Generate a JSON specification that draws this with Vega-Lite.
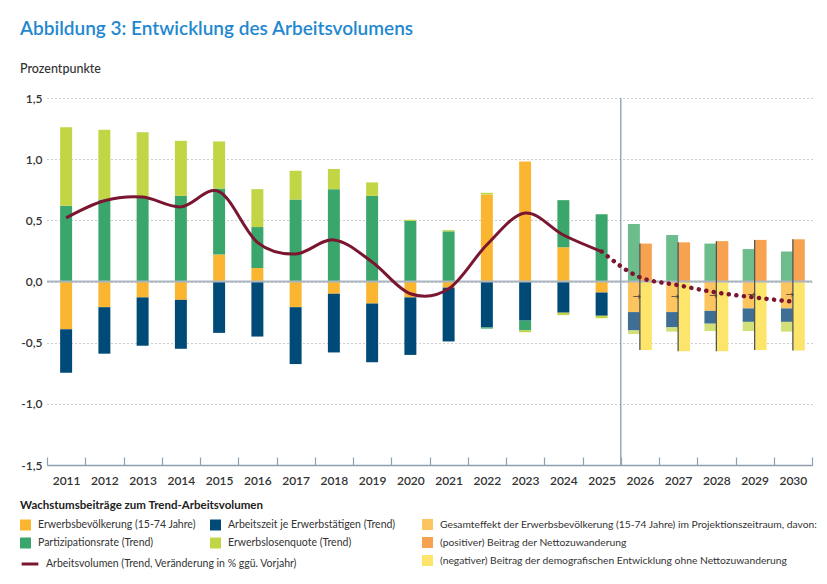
{
  "$schema": "https://vega.github.io/schema/vega-lite/v6.json",
  "width": 765,
  "height": 367,
  "autosize": {"type": "none"},
  "padding": {"left": 47, "top": 98, "right": 15, "bottom": 119},
  "title": {
    "text": "Abbildung 3: Entwicklung des Arbeitsvolumens",
    "subtitle": "Prozentpunkte",
    "anchor": "start",
    "frame": "bounds",
    "fontSize": 19,
    "fontWeight": 600,
    "color": "#1f88d0",
    "subtitleFontSize": 12.5,
    "subtitleColor": "#333333",
    "subtitleFontWeight": 500,
    "subtitlePadding": 24,
    "offset": 17
  },
  "datasets": {
    "hist": [
      {"year": "2011", "cat": "EB", "o": 1, "value": -0.39},
      {"year": "2011", "cat": "AZ", "o": 2, "value": -0.355},
      {"year": "2011", "cat": "PR", "o": 3, "value": 0.62},
      {"year": "2011", "cat": "EQ", "o": 4, "value": 0.64},
      {"year": "2012", "cat": "EB", "o": 1, "value": -0.21},
      {"year": "2012", "cat": "AZ", "o": 2, "value": -0.38},
      {"year": "2012", "cat": "PR", "o": 3, "value": 0.67},
      {"year": "2012", "cat": "EQ", "o": 4, "value": 0.57},
      {"year": "2013", "cat": "EB", "o": 1, "value": -0.13},
      {"year": "2013", "cat": "AZ", "o": 2, "value": -0.395},
      {"year": "2013", "cat": "PR", "o": 3, "value": 0.69},
      {"year": "2013", "cat": "EQ", "o": 4, "value": 0.53},
      {"year": "2014", "cat": "EB", "o": 1, "value": -0.15},
      {"year": "2014", "cat": "AZ", "o": 2, "value": -0.40},
      {"year": "2014", "cat": "PR", "o": 3, "value": 0.70},
      {"year": "2014", "cat": "EQ", "o": 4, "value": 0.45},
      {"year": "2015", "cat": "EB", "o": 1, "value": 0.22},
      {"year": "2015", "cat": "AZ", "o": 2, "value": -0.42},
      {"year": "2015", "cat": "PR", "o": 3, "value": 0.54},
      {"year": "2015", "cat": "EQ", "o": 4, "value": 0.385},
      {"year": "2016", "cat": "EB", "o": 1, "value": 0.11},
      {"year": "2016", "cat": "AZ", "o": 2, "value": -0.45},
      {"year": "2016", "cat": "PR", "o": 3, "value": 0.335},
      {"year": "2016", "cat": "EQ", "o": 4, "value": 0.31},
      {"year": "2017", "cat": "EB", "o": 1, "value": -0.21},
      {"year": "2017", "cat": "AZ", "o": 2, "value": -0.465},
      {"year": "2017", "cat": "PR", "o": 3, "value": 0.67},
      {"year": "2017", "cat": "EQ", "o": 4, "value": 0.235},
      {"year": "2018", "cat": "EB", "o": 1, "value": -0.10},
      {"year": "2018", "cat": "AZ", "o": 2, "value": -0.48},
      {"year": "2018", "cat": "PR", "o": 3, "value": 0.755},
      {"year": "2018", "cat": "EQ", "o": 4, "value": 0.165},
      {"year": "2019", "cat": "EB", "o": 1, "value": -0.18},
      {"year": "2019", "cat": "AZ", "o": 2, "value": -0.48},
      {"year": "2019", "cat": "PR", "o": 3, "value": 0.70},
      {"year": "2019", "cat": "EQ", "o": 4, "value": 0.11},
      {"year": "2020", "cat": "EB", "o": 1, "value": -0.13},
      {"year": "2020", "cat": "AZ", "o": 2, "value": -0.47},
      {"year": "2020", "cat": "PR", "o": 3, "value": 0.495},
      {"year": "2020", "cat": "EQ", "o": 4, "value": 0.01},
      {"year": "2021", "cat": "EB", "o": 1, "value": -0.05},
      {"year": "2021", "cat": "AZ", "o": 2, "value": -0.44},
      {"year": "2021", "cat": "PR", "o": 3, "value": 0.41},
      {"year": "2021", "cat": "EQ", "o": 4, "value": 0.01},
      {"year": "2022", "cat": "EB", "o": 1, "value": 0.71},
      {"year": "2022", "cat": "AZ", "o": 2, "value": -0.375},
      {"year": "2022", "cat": "PR", "o": 3, "value": -0.01},
      {"year": "2022", "cat": "EQ", "o": 4, "value": 0.015},
      {"year": "2023", "cat": "EB", "o": 1, "value": 0.98},
      {"year": "2023", "cat": "AZ", "o": 2, "value": -0.32},
      {"year": "2023", "cat": "PR", "o": 3, "value": -0.08},
      {"year": "2023", "cat": "EQ", "o": 4, "value": -0.015},
      {"year": "2024", "cat": "EB", "o": 1, "value": 0.28},
      {"year": "2024", "cat": "AZ", "o": 2, "value": -0.255},
      {"year": "2024", "cat": "PR", "o": 3, "value": 0.385},
      {"year": "2024", "cat": "EQ", "o": 4, "value": -0.02},
      {"year": "2025", "cat": "EB", "o": 1, "value": -0.09},
      {"year": "2025", "cat": "AZ", "o": 2, "value": -0.19},
      {"year": "2025", "cat": "PR", "o": 3, "value": 0.55},
      {"year": "2025", "cat": "EQ", "o": 4, "value": -0.02}
    ],
    "proj": [
      {"year": "2026", "pos": "L", "cat": "EBp", "o": 1, "value": -0.25},
      {"year": "2026", "pos": "L", "cat": "AZp", "o": 2, "value": -0.15},
      {"year": "2026", "pos": "L", "cat": "PRp", "o": 3, "value": 0.47},
      {"year": "2026", "pos": "L", "cat": "EQp", "o": 4, "value": -0.03},
      {"year": "2026", "pos": "R", "cat": "NZ", "o": 1, "value": 0.31},
      {"year": "2026", "pos": "R", "cat": "DE", "o": 1, "value": -0.56},
      {"year": "2027", "pos": "L", "cat": "EBp", "o": 1, "value": -0.25},
      {"year": "2027", "pos": "L", "cat": "AZp", "o": 2, "value": -0.125},
      {"year": "2027", "pos": "L", "cat": "PRp", "o": 3, "value": 0.38},
      {"year": "2027", "pos": "L", "cat": "EQp", "o": 4, "value": -0.035},
      {"year": "2027", "pos": "R", "cat": "NZ", "o": 1, "value": 0.32},
      {"year": "2027", "pos": "R", "cat": "DE", "o": 1, "value": -0.57},
      {"year": "2028", "pos": "L", "cat": "EBp", "o": 1, "value": -0.24},
      {"year": "2028", "pos": "L", "cat": "AZp", "o": 2, "value": -0.105},
      {"year": "2028", "pos": "L", "cat": "PRp", "o": 3, "value": 0.31},
      {"year": "2028", "pos": "L", "cat": "EQp", "o": 4, "value": -0.06},
      {"year": "2028", "pos": "R", "cat": "NZ", "o": 1, "value": 0.33},
      {"year": "2028", "pos": "R", "cat": "DE", "o": 1, "value": -0.57},
      {"year": "2029", "pos": "L", "cat": "EBp", "o": 1, "value": -0.22},
      {"year": "2029", "pos": "L", "cat": "AZp", "o": 2, "value": -0.11},
      {"year": "2029", "pos": "L", "cat": "PRp", "o": 3, "value": 0.265},
      {"year": "2029", "pos": "L", "cat": "EQp", "o": 4, "value": -0.075},
      {"year": "2029", "pos": "R", "cat": "NZ", "o": 1, "value": 0.34},
      {"year": "2029", "pos": "R", "cat": "DE", "o": 1, "value": -0.56},
      {"year": "2030", "pos": "L", "cat": "EBp", "o": 1, "value": -0.22},
      {"year": "2030", "pos": "L", "cat": "AZp", "o": 2, "value": -0.11},
      {"year": "2030", "pos": "L", "cat": "PRp", "o": 3, "value": 0.245},
      {"year": "2030", "pos": "L", "cat": "EQp", "o": 4, "value": -0.08},
      {"year": "2030", "pos": "R", "cat": "NZ", "o": 1, "value": 0.345},
      {"year": "2030", "pos": "R", "cat": "DE", "o": 1, "value": -0.565}
    ],
    "bracket": [
      {"year": "2026", "top": 0.31, "bottom": -0.56, "arrow": -0.125},
      {"year": "2027", "top": 0.32, "bottom": -0.57, "arrow": -0.125},
      {"year": "2028", "top": 0.33, "bottom": -0.57, "arrow": -0.12},
      {"year": "2029", "top": 0.34, "bottom": -0.56, "arrow": -0.11},
      {"year": "2030", "top": 0.345, "bottom": -0.565, "arrow": -0.11}
    ],
    "sep": [{"year": "2026"}],
    "zero": [{"value": 0}],
    "line": [
      {"year": "2011", "value": 0.52},
      {"year": "2012", "value": 0.66},
      {"year": "2013", "value": 0.69},
      {"year": "2014", "value": 0.61},
      {"year": "2015", "value": 0.735},
      {"year": "2016", "value": 0.32},
      {"year": "2017", "value": 0.225},
      {"year": "2018", "value": 0.34},
      {"year": "2019", "value": 0.16},
      {"year": "2020", "value": -0.10},
      {"year": "2021", "value": -0.06},
      {"year": "2022", "value": 0.30},
      {"year": "2023", "value": 0.56},
      {"year": "2024", "value": 0.38},
      {"year": "2025", "value": 0.245}
    ],
    "dots": [
      {"year": "2025", "value": 0.245},
      {"year": "2026", "value": 0.035},
      {"year": "2027", "value": -0.03},
      {"year": "2028", "value": -0.09},
      {"year": "2029", "value": -0.13},
      {"year": "2030", "value": -0.165}
    ]
  },
  "layer": [
    {
      "data": {"name": "hist"},
      "mark": {"type": "bar", "width": {"band": 0.313}},
      "encoding": {
        "x": {
          "field": "year",
          "type": "nominal",
          "scale": {
            "domain": ["2011","2012","2013","2014","2015","2016","2017","2018","2019","2020","2021","2022","2023","2024","2025","2026","2027","2028","2029","2030"],
            "paddingInner": 0,
            "paddingOuter": 0
          },
          "axis": {
            "title": null,
            "labelAngle": 0,
            "domainColor": "#8fa1ae",
            "domainWidth": 1.5,
            "tickColor": "#8fa1ae",
            "tickWidth": 1.2,
            "tickSize": -8,
            "tickBand": "extent",
            "labelFontSize": 12,
            "labelFontWeight": 600,
            "labelColor": "#333333",
            "labelPadding": 18
          }
        },
        "y": {
          "field": "value",
          "type": "quantitative",
          "scale": {"domain": [-1.5, 1.5], "nice": false, "zero": false},
          "axis": {
            "title": null,
            "values": [-1.5, -1, -0.5, 0, 0.5, 1, 1.5],
            "format": ".1f",
            "domain": false,
            "ticks": false,
            "grid": true,
            "gridDash": [1, 3],
            "gridColor": "#9a9a9a",
            "gridWidth": 1,
            "labelPadding": 5,
            "labelFontSize": 12,
            "labelFontWeight": 600,
            "labelColor": "#333333"
          }
        },
        "color": {
          "field": "cat",
          "type": "nominal",
          "scale": {"domain": ["EB", "PR", "AZ", "EQ"], "range": ["#fbb631", "#3aa66b", "#004a78", "#c1d545"]},
          "legend": {
            "orient": "none",
            "legendX": -27,
            "legendY": 402,
            "direction": "vertical",
            "columns": 2,
            "title": "Wachstumsbeiträge zum Trend-Arbeitsvolumen",
            "titleLimit": 500,
            "titleFontSize": 11.5,
            "titleFontWeight": "bold",
            "titleColor": "#222222",
            "titlePadding": 8,
            "symbolType": "square",
            "symbolSize": 121,
            "symbolStrokeWidth": 0,
            "labelFontSize": 10.5,
            "labelColor": "#333333",
            "labelOffset": 7,
            "rowPadding": 7,
            "columnPadding": 14,
            "labelLimit": 400,
            "labelExpr": "datum.value == 'EB' ? 'Erwerbsbevölkerung (15-74 Jahre)' : datum.value == 'AZ' ? 'Arbeitszeit je Erwerbstätigen (Trend)' : datum.value == 'PR' ? 'Partizipationsrate (Trend)' : 'Erwerbslosenquote (Trend)'"
          }
        },
        "order": {"field": "o", "type": "quantitative"}
      }
    },
    {
      "data": {"name": "proj"},
      "mark": {"type": "bar"},
      "encoding": {
        "x": {"field": "year", "type": "nominal"},
        "xOffset": {"field": "pos", "type": "nominal", "scale": {"domain": ["L", "R"], "paddingInner": 0, "paddingOuter": 0.6}},
        "y": {"field": "value", "type": "quantitative"},
        "fill": {
          "field": "cat",
          "type": "nominal",
          "scale": {"domain": ["EBp", "AZp", "PRp", "EQp", "NZ", "DE"], "range": ["#fcc560", "#3e6e94", "#6cbc8c", "#d2e07a", "#f7a250", "#fde46b"]},
          "legend": {
            "orient": "none",
            "legendX": 375,
            "legendY": 421,
            "title": null,
            "values": ["EBp", "NZ", "DE"],
            "symbolType": "square",
            "symbolSize": 121,
            "symbolStrokeWidth": 0,
            "labelFontSize": 10.3,
            "labelColor": "#333333",
            "labelOffset": 7,
            "rowPadding": 7,
            "labelLimit": 600,
            "labelExpr": "datum.value == 'EBp' ? 'Gesamteffekt der Erwerbsbevölkerung (15-74 Jahre) im Projektionszeitraum, davon:' : datum.value == 'NZ' ? '(positiver) Beitrag der Nettozuwanderung' : '(negativer) Beitrag der demografischen Entwicklung ohne Nettozuwanderung'"
          }
        },
        "order": {"field": "o", "type": "quantitative"}
      }
    },
    {
      "data": {"name": "zero"},
      "mark": {"type": "rule", "color": "#a9b6c0", "strokeWidth": 2},
      "encoding": {"y": {"field": "value", "type": "quantitative"}}
    },
    {
      "data": {"name": "sep"},
      "mark": {"type": "rule", "color": "#98a9b6", "strokeWidth": 1.5},
      "encoding": {"x": {"field": "year", "type": "nominal", "bandPosition": 0}}
    },
    {
      "data": {"name": "bracket"},
      "mark": {"type": "rule", "color": "#555555", "strokeWidth": 1.3},
      "encoding": {
        "x": {"field": "year", "type": "nominal"},
        "y": {"field": "bottom", "type": "quantitative"},
        "y2": {"field": "top"}
      }
    },
    {
      "data": {"name": "bracket"},
      "mark": {"type": "text", "text": "→", "align": "right", "baseline": "middle", "fontSize": 10, "color": "#444444", "dx": 1, "font": "DejaVu Sans"},
      "encoding": {
        "x": {"field": "year", "type": "nominal"},
        "y": {"field": "arrow", "type": "quantitative"}
      }
    },
    {
      "data": {"name": "line"},
      "mark": {"type": "line", "interpolate": "cardinal", "strokeWidth": 3},
      "encoding": {
        "x": {"field": "year", "type": "nominal"},
        "y": {"field": "value", "type": "quantitative"},
        "stroke": {
          "datum": "Arbeitsvolumen (Trend, Veränderung in % ggü. Vorjahr)",
          "type": "nominal",
          "scale": {"range": ["#7a1630"]},
          "legend": {
            "orient": "none",
            "legendX": -27,
            "legendY": 456,
            "title": null,
            "symbolType": "stroke",
            "symbolStrokeWidth": 3,
            "symbolSize": 280,
            "labelFontSize": 10.5,
            "labelColor": "#333333",
            "labelOffset": 6,
            "labelLimit": 400
          }
        }
      }
    },
    {
      "data": {"name": "dots"},
      "mark": {"type": "line", "interpolate": "monotone", "color": "#7a1630", "strokeWidth": 4.5, "strokeDash": [0.1, 7.5], "strokeCap": "round"},
      "encoding": {
        "x": {"field": "year", "type": "nominal"},
        "y": {"field": "value", "type": "quantitative"}
      }
    }
  ],
  "config": {
    "font": "Lato",
    "view": {"stroke": null},
    "locale": {
      "number": {"decimal": ",", "thousands": ".", "grouping": [3], "currency": ["", " €"], "minus": "-"}
    }
  }
}
